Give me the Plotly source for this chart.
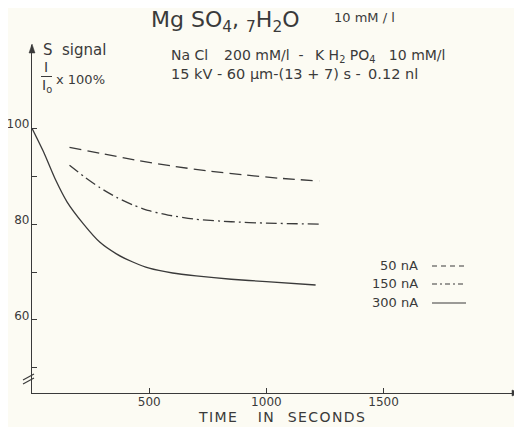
import plotly.graph_objects as go

# ---- data ----
t_50nA = [160, 300, 450, 600, 750, 900, 1050, 1225]
s_50nA = [96.0, 94.7, 93.3, 92.1, 91.1, 90.3, 89.6, 89.0]

t_150nA = [160, 220, 290, 360, 430, 500, 580, 700, 850, 1000, 1240]
s_150nA = [92.3, 90.0, 87.6, 85.6, 84.0, 82.8, 81.9, 81.0, 80.5, 80.2, 80.0]

t_300nA = [0, 50, 100, 150, 220, 290, 360, 430, 500, 600, 700, 850, 1000, 1210]
s_300nA = [100, 95.0, 89.3, 84.6, 80.0, 76.2, 73.8, 72.1, 70.8, 69.8, 69.2, 68.5, 68.0, 67.3]

series_names = ["50 nA", "150 nA", "300 nA"]
x_ticks = [500, 1000, 1500]
y_ticks = [60, 80, 100]
y_minor_ticks = [50, 70, 90]

INK = "#3a3a3a"
BG = "#fcfbf3"
FONT = "DejaVu Sans"

# page body has an 8px margin: figure is drawn 8px in from the window corner
OFF = 8
W, H = 522 - OFF, 427 - OFF
ML, MR, MT, MB = 32 - OFF, 2, 45 - OFF, 34
PW, PH = W - ML - MR, H - MT - MB
X_RANGE = [0, 2082]
Y_RANGE = [44.76, 117.38]


def px(x):  # window pixel -> paper
    return (x - OFF - ML) / PW


def py(y):
    return 1 - (y - OFF - MT) / PH


fig = go.Figure()
dashes = ["12px,6px", "11px,4px,2px,4px", "solid"]
for name, t, s, d in zip(series_names, [t_50nA, t_150nA, t_300nA],
                         [s_50nA, s_150nA, s_300nA], dashes):
    fig.add_trace(go.Scatter(x=t, y=s, mode="lines", name=name,
                             line=dict(color=INK, width=1.3, dash=d, shape="spline", smoothing=0.6),
                             showlegend=False))

annotations = []
shapes = []


def txt(text, x, y, size, xanchor="left", yanchor="middle"):
    annotations.append(dict(text=text, x=px(x), y=py(y), xref="paper", yref="paper",
                            showarrow=False, xanchor=xanchor, yanchor=yanchor,
                            font=dict(family=FONT, size=size, color=INK)))


NB, EN, EM, TH, HR = "\u00a0", "\u2002", "\u2003", "\u2009", "\u200a"

# titles
txt("Mg SO<sub>4</sub>, <sub>7</sub>H<sub>2</sub>O", 149, 21, 22)
txt("10 mM / l", 332, 18, 13)
txt("Na Cl" + EN + NB + NB + "200 mM/l" + NB + NB + "-" + EN + NB
    + "K H<sub>2</sub> PO<sub>4</sub>" + NB + NB + NB + "10 mM/l", 169, 56, 14)
txt("15 kV - 60 µm-(13 + 7) s -" + EN + "0.12 nl", 169, 74, 14.5)

# y-axis label
txt("S" + NB + NB + "signal", 41, 50, 15)
txt("I", 46, 67, 14, xanchor="center")
txt("I<sub>o</sub>", 47, 86, 14, xanchor="center")
txt("x 100%", 54, 79, 13)
shapes.append(dict(type="line", xref="paper", yref="paper", x0=px(41), x1=px(52),
                   y0=py(76.5), y1=py(76.5), line=dict(color=INK, width=1)))

# legend (text then line sample)
leg_y = [266, 284, 303]
leg_dash = ["5px,4px", "5px,3px,2px,3px", "solid"]
for name, d, yy in zip(series_names, leg_dash, leg_y):
    txt(name, 420, yy - 1, 13, xanchor="right")
    shapes.append(dict(type="line", xref="paper", yref="paper", x0=px(432), x1=px(466),
                       y0=py(yy), y1=py(yy), line=dict(color=INK, width=1.2, dash=d)))

# axis break marks
for y0, y1 in [(384, 378), (380, 374)]:
    shapes.append(dict(type="line", xref="paper", yref="paper", x0=px(23), x1=px(34),
                       y0=py(y0), y1=py(y1), line=dict(color=INK, width=1.1)))

# axis arrowheads
shapes.append(dict(type="path", xref="paper", yref="paper",
                   path=f"M {px(32)},{py(44)} L {px(29)},{py(53)} L {px(35)},{py(53)} Z",
                   fillcolor=INK, line=dict(color=INK, width=0.5)))
shapes.append(dict(type="path", xref="paper", yref="paper",
                   path=f"M {px(521)},{py(393)} L {px(512)},{py(390)} L {px(512)},{py(396)} Z",
                   fillcolor=INK, line=dict(color=INK, width=0.5)))

# x-axis title
txt(HR.join("TIME") + EM + EN + HR.join("IN") + EM + HR.join("SECONDS"), 281, 427, 14,
    xanchor="center", yanchor="bottom")

fig.update_layout(
    width=W, height=H,
    margin=dict(l=ML, r=MR, t=MT, b=MB),
    paper_bgcolor=BG, plot_bgcolor=BG,
    annotations=annotations, shapes=shapes,
    font=dict(family=FONT, color=INK),
    xaxis=dict(range=X_RANGE, showgrid=False, zeroline=False, showline=True, automargin=False,
               linecolor=INK, linewidth=1.2, ticks="inside", ticklen=5,
               tickcolor=INK, tickwidth=1, tickvals=x_ticks,
               ticktext=[str(v) for v in x_ticks], ticklabelstandoff=-3,
               tickfont=dict(family=FONT, size=12, color=INK)),
    yaxis=dict(range=Y_RANGE, showgrid=False, zeroline=False, showline=True, automargin=False,
               linecolor=INK, linewidth=1.2, ticks="inside", ticklen=5,
               tickcolor=INK, tickwidth=1, tickvals=y_ticks,
               ticktext=[str(v) for v in y_ticks], ticklabelshift=-4, ticklabelstandoff=-1,
               tickfont=dict(family=FONT, size=12, color=INK),
               minor=dict(tickvals=y_minor_ticks, ticks="inside", ticklen=5,
                          tickcolor=INK, tickwidth=1)),
)

fig.write_html("out.html")
